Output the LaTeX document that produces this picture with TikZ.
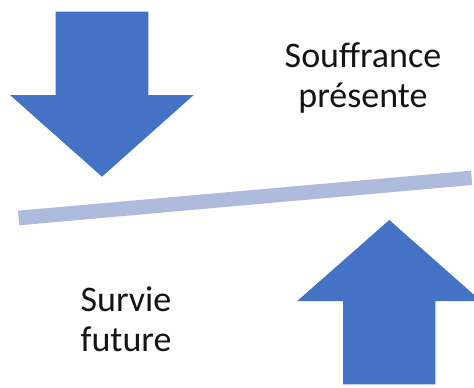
\documentclass[tikz,border=0pt]{standalone}
\usepackage{fontspec}
\setmainfont{Carlito}
\definecolor{arrowblue}{HTML}{4472C4}
\definecolor{barblue}{HTML}{AFBBDD}
\tikzset{
  bigarrow/.style={fill=arrowblue,draw=none},
  barshape/.style={fill=barblue,draw=none},
  caption/.style={align=center,font=\fontsize{36}{39.5}\selectfont,text=black!92,inner sep=0pt}
}
\begin{document}
\begin{tikzpicture}[x=1pt,y=-1pt]
\useasboundingbox (0,0) rectangle (474,388);
\clip (0,0) rectangle (474,388);
\fill[white] (0,0) rectangle (474,388);
\fill[bigarrow] (55.7,11.7) -- (148.3,11.7) -- (148.3,95) -- (193.7,95) -- (102,176.7) -- (10,95) -- (55.7,95) -- cycle;
\fill[bigarrow] (389.3,220) -- (481,301) -- (435.3,301) -- (435.3,384.3) -- (343,384.3) -- (343,301) -- (297.3,301) -- cycle;
\fill[barshape] (18,210.7) -- (471,170.7) -- (472.3,185) -- (19.3,225.3) -- cycle;
\node[caption] (top) at (363,78) {Souffrance\\présente};
\node[caption] (bot) at (126,319) {Survie\\future};
\end{tikzpicture}
\end{document}
